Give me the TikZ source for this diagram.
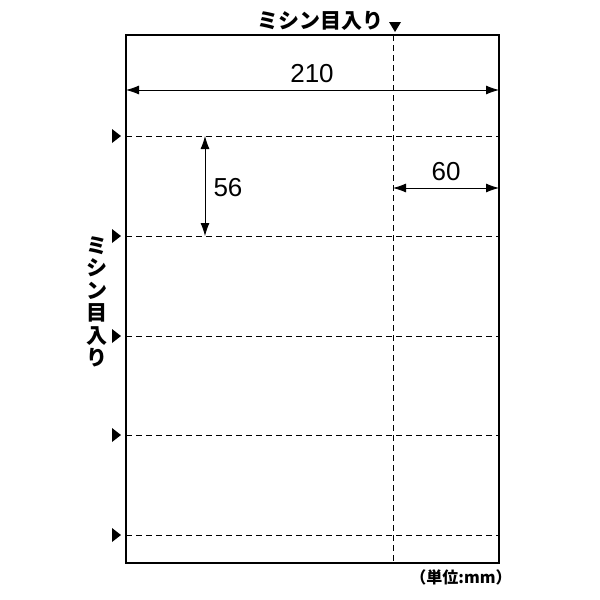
\documentclass[tikz,border=0pt]{standalone}
\usepackage{fontspec}
\setmainfont{Liberation Sans}
\newfontfamily\jp{Noto Sans CJK JP}
\usetikzlibrary{arrows.meta}
\begin{document}
\begin{tikzpicture}[x=1pt,y=-1pt,
  perf/.style={dashed,dash pattern=on 6pt off 4pt,line width=0.8pt},
  dim/.style={line width=0.8pt,{Latex[length=13pt,width=9pt]}-{Latex[length=13pt,width=9pt]}},
  num/.style={font=\fontsize{26}{26}\selectfont,inner sep=0pt},
  jplabel/.style={font=\jp\bfseries\fontsize{21}{21}\selectfont,inner sep=0pt}]
\useasboundingbox (0,0) rectangle (600,600);
\coordinate (TL) at (126,35);
\coordinate (BR) at (499,563);
\draw[line width=1.3pt] (TL) rectangle (BR);
% perforations
\draw[perf] (393,35) -- (393,563);
\foreach \y in {136,236,336,435,535} {
  \draw[perf] (126,\y) -- (499,\y);
  \fill (112,\y-7) -- (121,\y) -- (112,\y+7) -- cycle;
}
\fill (389,22) -- (401,22) -- (395,32) -- cycle;
% dimensions
\coordinate (a1) at (126,90); \coordinate (a2) at (499,90);
\draw[dim] (a1) -- (a2);
\node[num] (l210) at (312,74) {210};
\coordinate (b1) at (205,136); \coordinate (b2) at (205,236);
\draw[dim] (b1) -- (b2);
\node[num] (l56) at (228,188) {56};
\coordinate (c1) at (393,188); \coordinate (c2) at (499,188);
\draw[dim] (c1) -- (c2);
\node[num] (l60) at (446,172) {60};
% labels
\node[jplabel] (top) at (320,21) {ミシン目入り};
\node[jplabel,align=center,font=\jp\bfseries\fontsize{21}{22.5}\selectfont] (left) at (97,302) {ミ\\シ\\ン\\目\\入\\り};
\node[font=\jp\bfseries\fontsize{16}{16}\selectfont,inner sep=0pt] (unit) at (461,577) {（単位:mm）};
\end{tikzpicture}
\end{document}
